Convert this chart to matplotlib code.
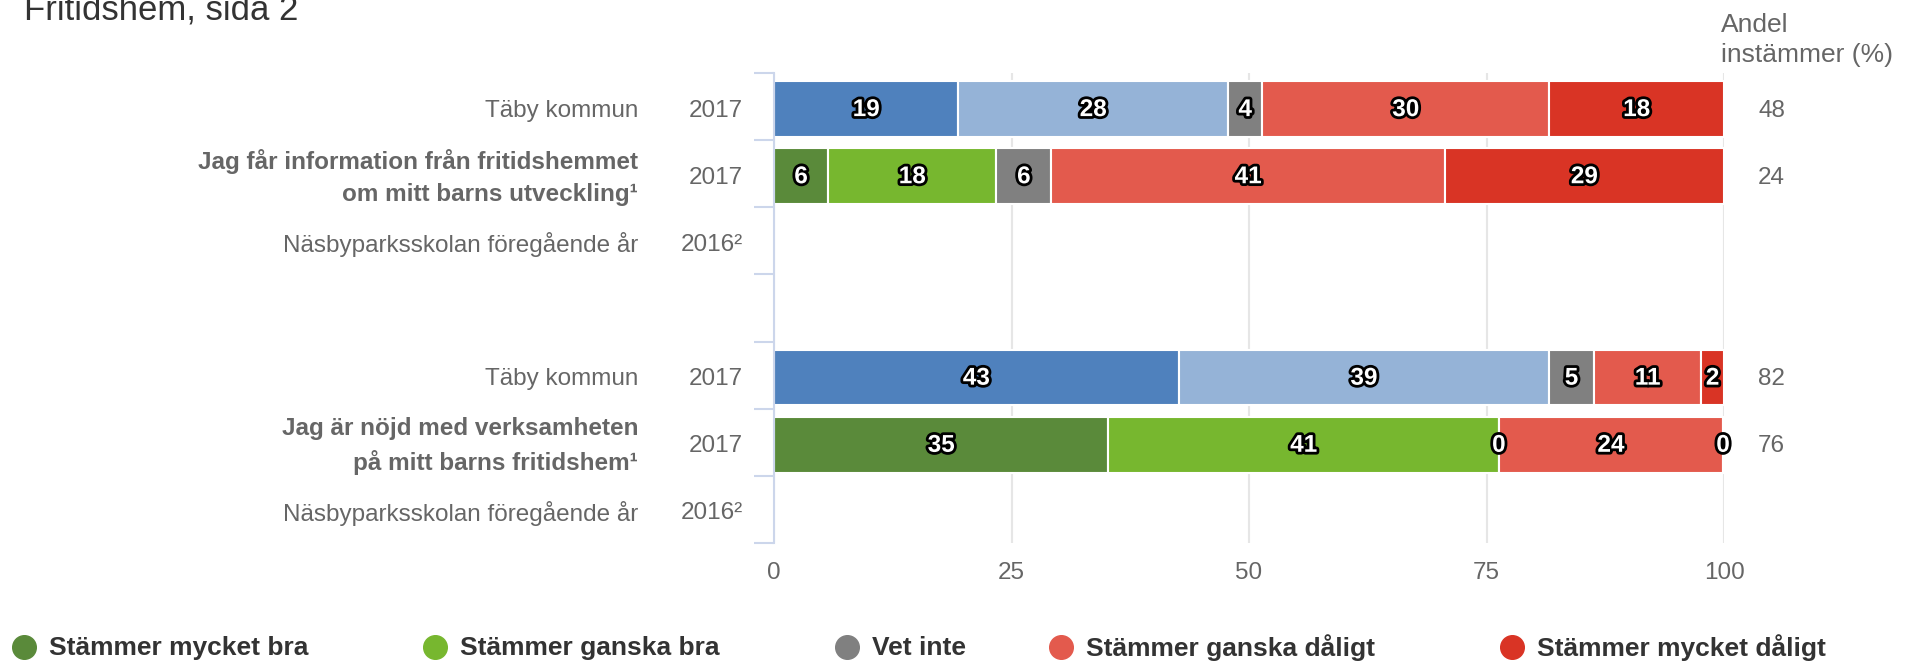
import numpy as np
import matplotlib
matplotlib.use('Agg')
import matplotlib.pyplot as plt
import matplotlib.patheffects as pe
from matplotlib.transforms import blended_transform_factory

plt.rcParams['font.family'] = ['Liberation Sans', 'DejaVu Sans']

nan = np.nan

# Rader (uppifrån och ned), tom rad mellan frågorna
row_names = ['Täby kommun',
             'Jag får information från fritidshemmet\nom mitt barns utveckling¹',
             'Näsbyparksskolan föregående år',
             '',
             'Täby kommun',
             'Jag är nöjd med verksamheten\npå mitt barns fritidshem¹',
             'Näsbyparksskolan föregående år']
row_years = ['2017', '2017', '2016²', '', '2017', '2017', '2016²']
bold_rows = [1, 5]
kommun_rows = [0, 4]

answers = ['Stämmer mycket bra', 'Stämmer ganska bra', 'Vet inte',
           'Stämmer ganska dåligt', 'Stämmer mycket dåligt']

# Andelar i procent per svarsalternativ
mycket_bra = [19.4, 5.7, nan, nan, 42.6, 35.2, nan]
ganska_bra = [28.4, 17.7, nan, nan, 39.0, 41.1, nan]
vet_inte = [3.6, 5.8, nan, nan, 4.7, 0.0, nan]
ganska_daligt = [30.2, 41.4, nan, nan, 11.3, 23.6, nan]
mycket_daligt = [18.4, 29.4, nan, nan, 2.4, 0.0, nan]
andel_instammer = ['48', '24', '', '', '82', '76', '']

series = [mycket_bra, ganska_bra, vet_inte, ganska_daligt, mycket_daligt]
colors = ['#5a8a3a', '#77b72f', '#808080', '#e35a4d', '#d93425']
kommun_colors = ['#4f81bd', '#95b3d7', '#808080', '#e35a4d', '#d93425']

fig = plt.figure(figsize=(19.1, 6.65), dpi=100)
ax = fig.add_axes([774 / 1910, 1 - 543 / 665, 950 / 1910, 470 / 665])

y = np.arange(len(row_names))
ybar = y + 0.035  # Highcharts lägger staplarna en aning lägre
left = np.zeros(len(row_names))
for j, vals in enumerate(series):
    vals = np.array(vals, dtype=float)
    cols = [kommun_colors[j] if i in kommun_rows else colors[j] for i in y]
    ax.barh(ybar, vals, left=left, height=0.83, color=cols,
            edgecolor='white', linewidth=1.5, zorder=2)
    for i in y:
        if np.isnan(vals[i]):
            continue
        ax.text(left[i] + vals[i] / 2, ybar[i] + 0.01, f'{round(vals[i])}',
                ha='center', va='center', color='white', fontsize=17.5,
                fontweight='bold', zorder=3,
                path_effects=[pe.withStroke(linewidth=4, foreground='black')])
    left = left + np.nan_to_num(vals)

ax.set_xlim(0, 100)
ax.set_ylim(len(row_names) - 0.5, -0.5)
ax.set_xticks([0, 25, 50, 75, 100])
ax.tick_params(axis='x', length=0, pad=14, labelsize=17.5, labelcolor='#666666')
ax.set_yticks(np.arange(-0.5, len(row_names), 1))
ax.set_yticklabels([])
ax.tick_params(axis='y', length=14.4, width=1.5, color='#ccd6eb', direction='out')
ax.grid(axis='x', color='#e6e6e6', linewidth=1.5)
ax.set_axisbelow(True)
for s in ['top', 'right', 'bottom']:
    ax.spines[s].set_visible(False)
ax.spines['left'].set_color('#ccd6eb')
ax.spines['left'].set_linewidth(1.5)

# Kategorietiketter, år och andel instämmer
tr = blended_transform_factory(fig.transFigure, ax.transData)
for i in y:
    ax.text(638 / 1910, i + 0.06, row_names[i], transform=tr, ha='right', va='center',
            fontsize=17.5, color='#666666', linespacing=1.5,
            fontweight='bold' if i in bold_rows else 'normal')
    ax.text(743 / 1910, i + 0.06, row_years[i], transform=tr, ha='right', va='center',
            fontsize=17.5, color='#666666')
    ax.text(1758 / 1910, i + 0.06, andel_instammer[i], transform=tr, ha='left',
            va='center', fontsize=17.5, color='#666666')

fig.text(1721 / 1910, 1 - 40 / 665, 'Andel\ninstämmer (%)', ha='left', va='center',
         fontsize=19, color='#666666', linespacing=1.3)
fig.text(24 / 1910, 1 - 19 / 665, 'Fritidshem, sida 2', ha='left', va='baseline',
         fontsize=25, color='#333333')

# Legend
lax = fig.add_axes([0, 0, 1, 1])
lax.set_xlim(0, 1910)
lax.set_ylim(665, 0)
lax.axis('off')
marker_x = [24, 435, 847, 1061, 1512]
for mx, label, c in zip(marker_x, answers, colors):
    lax.scatter([mx], [647], s=17 ** 2, color=c)
    lax.text(mx + 25, 648, label, ha='left', va='center', fontsize=19,
             fontweight='bold', color='#333333')

fig.savefig('out.png', dpi=100)
